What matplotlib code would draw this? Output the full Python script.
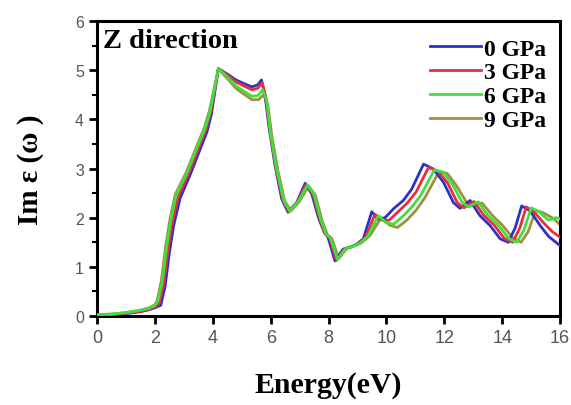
import matplotlib
matplotlib.use('Agg')
import matplotlib.pyplot as plt
from matplotlib.ticker import MultipleLocator

# Im eps(w), Z direction, four pressures
x0 = [0, 0.5, 1.0, 1.5, 1.8, 2.0, 2.2, 2.35, 2.5, 2.65, 2.87, 3.2, 3.5, 3.8, 3.95, 4.19,
      4.5, 4.8, 5.1, 5.35, 5.55, 5.68, 5.8, 5.95, 6.15, 6.38, 6.6, 6.9, 7.19, 7.42, 7.65,
      7.85, 7.98, 8.22, 8.5, 8.75, 8.97, 9.2, 9.49, 9.72, 9.95, 10.24, 10.58, 10.87, 11.28,
      11.62, 11.97, 12.31, 12.54, 12.89, 13.23, 13.58, 13.93, 14.21, 14.45, 14.67, 14.96,
      15.31, 15.6, 16.0]
y0 = [0.02, 0.03, 0.05, 0.09, 0.13, 0.17, 0.22, 0.6, 1.3, 1.85, 2.4, 2.85, 3.3, 3.75, 4.1, 5.03,
      4.92, 4.8, 4.72, 4.66, 4.7, 4.8, 4.5, 3.8, 3.06, 2.38, 2.11, 2.31, 2.7, 2.48, 2.0,
      1.7, 1.6, 1.12, 1.36, 1.4, 1.46, 1.57, 2.12, 1.97, 2.0, 2.18, 2.35, 2.58, 3.09,
      2.99, 2.72, 2.31, 2.19, 2.35, 2.04, 1.84, 1.57, 1.5, 1.8, 2.24, 2.14,
      1.84, 1.62, 1.43]

x1 = [0, 0.5, 1.0, 1.5, 1.8, 2.0, 2.15, 2.3, 2.45, 2.6, 2.8, 3.15, 3.45, 3.75, 3.92, 4.19,
      4.5, 4.8, 5.1, 5.35, 5.55, 5.7, 5.83, 5.98, 6.18, 6.42, 6.63, 6.93, 7.23, 7.46, 7.69,
      7.88, 8.03, 8.27, 8.55, 8.8, 9.03, 9.28, 9.6, 9.85, 10.1, 10.4, 10.72, 11.02, 11.45,
      11.78, 12.12, 12.45, 12.68, 13.02, 13.36, 13.72, 14.07, 14.36, 14.6, 14.83, 15.1,
      15.45, 15.72, 16.0]
y1 = [0.02, 0.03, 0.06, 0.1, 0.14, 0.19, 0.26, 0.65, 1.35, 1.9, 2.42, 2.88, 3.32, 3.78, 4.12, 5.03,
      4.9, 4.76, 4.67, 4.6, 4.63, 4.74, 4.45, 3.75, 3.02, 2.36, 2.12, 2.33, 2.68, 2.48, 1.98,
      1.68, 1.6, 1.13, 1.37, 1.41, 1.47, 1.6, 2.07, 1.95, 1.95, 2.12, 2.3, 2.52, 3.02,
      2.95, 2.7, 2.3, 2.2, 2.33, 2.05, 1.85, 1.58, 1.5, 1.78, 2.22, 2.12,
      1.88, 1.72, 1.6]

x2 = [0, 0.5, 1.0, 1.5, 1.8, 2.0, 2.1, 2.25, 2.4, 2.55, 2.72, 3.1, 3.4, 3.72, 3.9, 4.19,
      4.5, 4.8, 5.1, 5.35, 5.55, 5.72, 5.86, 6.0, 6.2, 6.45, 6.66, 6.96, 7.27, 7.5, 7.73,
      7.92, 8.07, 8.31, 8.6, 8.85, 9.08, 9.35, 9.72, 9.98, 10.25, 10.55, 10.88, 11.18, 11.65,
      11.95, 12.28, 12.6, 12.83, 13.17, 13.5, 13.86, 14.22, 14.5, 14.75, 15.0, 15.27,
      15.6, 15.85, 16.0]
y2 = [0.03, 0.04, 0.07, 0.12, 0.16, 0.22, 0.3, 0.7, 1.4, 1.95, 2.45, 2.9, 3.35, 3.8, 4.15, 5.03,
      4.86, 4.68, 4.56, 4.47, 4.48, 4.6, 4.38, 3.7, 3.0, 2.35, 2.13, 2.34, 2.66, 2.47, 1.96,
      1.66, 1.58, 1.15, 1.38, 1.42, 1.48, 1.62, 2.04, 1.9, 1.87, 2.02, 2.22, 2.45, 2.97,
      2.93, 2.68, 2.32, 2.22, 2.32, 2.05, 1.85, 1.58, 1.5, 1.75, 2.2, 2.12,
      1.95, 2.0, 1.98]

x3 = [0, 0.5, 1.0, 1.5, 1.8, 2.0, 2.08, 2.22, 2.37, 2.52, 2.7, 3.08, 3.38, 3.7, 3.88, 4.19,
      4.5, 4.8, 5.1, 5.35, 5.58, 5.75, 5.9, 6.04, 6.24, 6.48, 6.7, 7.0, 7.31, 7.54, 7.77,
      7.96, 8.11, 8.35, 8.65, 8.9, 9.13, 9.42, 9.82, 10.1, 10.38, 10.7, 11.02, 11.32, 11.82,
      12.1, 12.42, 12.75, 12.98, 13.3, 13.65, 14.0, 14.38, 14.65, 14.9, 15.15, 15.42,
      15.72, 15.92, 16.0]
y3 = [0.03, 0.04, 0.07, 0.12, 0.17, 0.23, 0.32, 0.72, 1.42, 1.97, 2.47, 2.92, 3.36, 3.82, 4.17, 5.02,
      4.83, 4.63, 4.5, 4.4, 4.4, 4.5, 4.3, 3.65, 2.98, 2.34, 2.14, 2.34, 2.64, 2.46, 1.95,
      1.65, 1.58, 1.17, 1.39, 1.43, 1.49, 1.63, 2.0, 1.85, 1.8, 1.95, 2.15, 2.4, 2.94,
      2.9, 2.65, 2.33, 2.24, 2.3, 2.05, 1.85, 1.58, 1.5, 1.72, 2.15, 2.1,
      2.0, 1.9, 1.85]

labels = ['0 GPa', '3 GPa', '6 GPa', '9 GPa']
colors = ['#3030c8', '#e8303c', '#3ee03e', '#a09040']


def main():
    serif = 'Liberation Serif'
    sans = 'Liberation Sans'

    fig, ax = plt.subplots(figsize=(5.71, 4.06), dpi=100)
    fig.subplots_adjust(left=0.17, bottom=0.219, right=0.981, top=0.946)

    series = [(x0, y0), (x1, y1), (x2, y2), (x3, y3)]
    zorders = [3, 4, 5, 2]
    for (xs, ys), lab, c, z in zip(series, labels, colors, zorders):
        ax.plot(xs, ys, color=c, lw=2.0, label=lab, zorder=z)

    ax.set_xlim(0, 16)
    ax.set_ylim(0, 6)
    ax.xaxis.set_major_locator(MultipleLocator(2))
    ax.yaxis.set_major_locator(MultipleLocator(1))
    ax.yaxis.set_minor_locator(MultipleLocator(0.5))

    for sp in ax.spines.values():
        sp.set_linewidth(2.2)
    ax.tick_params(which='major', direction='out', length=6, width=2,
                   top=False, right=False, colors='black', labelcolor='#555555')
    ax.tick_params(which='minor', direction='out', length=3.5, width=1.5,
                   top=False, right=False)
    for t in ax.get_xticklabels():
        t.set_fontfamily(sans)
        t.set_fontsize(13)
    for t in ax.get_yticklabels():
        t.set_fontfamily(sans)
        t.set_fontsize(11.5)

    ax.set_xlabel('Energy(eV)', fontfamily=serif, fontweight='bold', fontsize=21.5)
    ax.set_ylabel('Im \u03b5 (\u03c9 )', fontfamily=serif, fontweight='bold', fontsize=21)
    ax.xaxis.set_label_coords(0.5, -0.185)
    ax.yaxis.set_label_coords(-0.115, 0.5)

    ax.text(0.013, 0.975, 'Z direction', transform=ax.transAxes, ha='left', va='top',
            fontfamily=serif, fontweight='bold', fontsize=20.5)

    handles, labs = ax.get_legend_handles_labels()
    ax.legend(handles, labs, loc='upper right', frameon=False,
              prop={'family': serif, 'weight': 'bold', 'size': 17},
              handlelength=2.2, handletextpad=0.1, labelspacing=0.1,
              borderaxespad=0.2, bbox_to_anchor=(1.0, 0.99))

    fig.savefig('out.png', dpi=100)
    plt.close()


if __name__ == "__main__":
    main()
